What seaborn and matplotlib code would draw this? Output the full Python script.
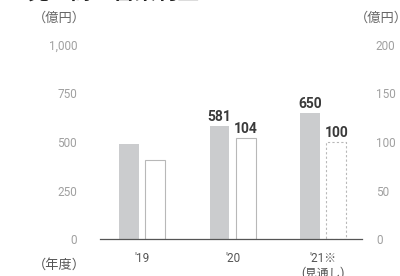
"""
Sales / operating profit bar chart (two scales, one frame).
"""
import matplotlib

matplotlib.use("Agg")
import matplotlib.pyplot as plt
import pandas as pd
import seaborn as sns

years = ["'19", "'20", "'21※\n(見通し)"]
sales = [490, 581, 650]          # 売上高 (億円, left axis)
profit = [81, 104, 100]          # 営業利益 (億円, right axis)
labeled = [False, True, True]
sales_ticks = [0, 250, 500, 750, 1000]
profit_ticks = [0, 50, 100, 150, 200]
RATIO = 5  # 1,000 on the left == 200 on the right

sns.set_style("white")
plt.rcParams["font.family"] = ["Roboto", "Noto Sans CJK JP", "DejaVu Sans"]

df = pd.DataFrame(
    {
        "year": years * 2,
        "series": ["売上高"] * 3 + ["営業利益"] * 3,
        "value": sales + [p * RATIO for p in profit],
    }
)

fig = plt.figure(figsize=(4, 2.76), dpi=100)
ax = fig.add_axes([0.25, 0.134, 0.655, 0.703])
sns.barplot(
    data=df,
    x="year",
    y="value",
    hue="series",
    hue_order=["売上高", "営業利益"],
    palette=["#cbccce", "white"],
    saturation=1,
    width=0.58,
    gap=0.25,
    legend=False,
    ax=ax,
)
ax.set_xlim(-0.464, 2.43)
ax.set_ylim(0, 1000)

sales_bars, profit_bars = ax.containers[0], ax.containers[1]
for bar in sales_bars:
    bar.set_linewidth(0)
for i, bar in enumerate(profit_bars):
    bar.set_edgecolor("#b8b8b8")
    bar.set_linewidth(0.8)
    if i == len(profit_bars) - 1:
        bar.set_linestyle((0, (2, 2)))

label_kw = dict(
    textcoords="offset points",
    xytext=(0, 3.6),
    ha="center",
    va="baseline",
    fontsize=10,
    fontweight="bold",
    color="#3a3a3a",
)
for i, flag in enumerate(labeled):
    if not flag:
        continue
    sb, pb = sales_bars[i], profit_bars[i]
    ax.annotate(f"{sales[i]}", (sb.get_x() + sb.get_width() / 2, sb.get_height()), **label_kw)
    ax.annotate(f"{profit[i]}", (pb.get_x() + pb.get_width() / 2, pb.get_height()), **label_kw)

ax.set_yticks(sales_ticks)
ax.set_yticklabels([f"{v:,}" for v in sales_ticks])
ax.tick_params(axis="y", length=0, pad=16.5, labelsize=8.5, colors="#a0a0a0")
ax.tick_params(axis="x", length=0, pad=9, labelsize=8.5, colors="#555555")
ax.set_xlabel("")
ax.set_ylabel("")
for side in ["left", "right", "top"]:
    ax.spines[side].set_visible(False)
ax.spines["bottom"].set_color("#555555")
ax.spines["bottom"].set_linewidth(0.9)

sec = ax.secondary_yaxis("right", functions=(lambda y: y / RATIO, lambda y: y * RATIO))
sec.set_yticks(profit_ticks)
sec.tick_params(length=0, pad=10, labelsize=8.5, colors="#a0a0a0")
sec.spines["right"].set_visible(False)

# the scan cuts the heading off at the top edge
fig.text(27 / 400, 1 + 1 / 276, "売上高・営業利益", ha="left", va="baseline",
         fontsize=15.5, fontweight="bold", color="#222222")
fig.text(33 / 400, 1 - 18.5 / 276, "（億円）", ha="left", va="center", fontsize=9.5, color="#666666")
fig.text(355 / 400, 1 - 18.5 / 276, "（億円）", ha="left", va="center", fontsize=9.5, color="#666666")
fig.text(33 / 400, 1 - 265 / 276, "（年度）", ha="left", va="center", fontsize=9.5, color="#555555")

fig.savefig("out.png", dpi=100)
